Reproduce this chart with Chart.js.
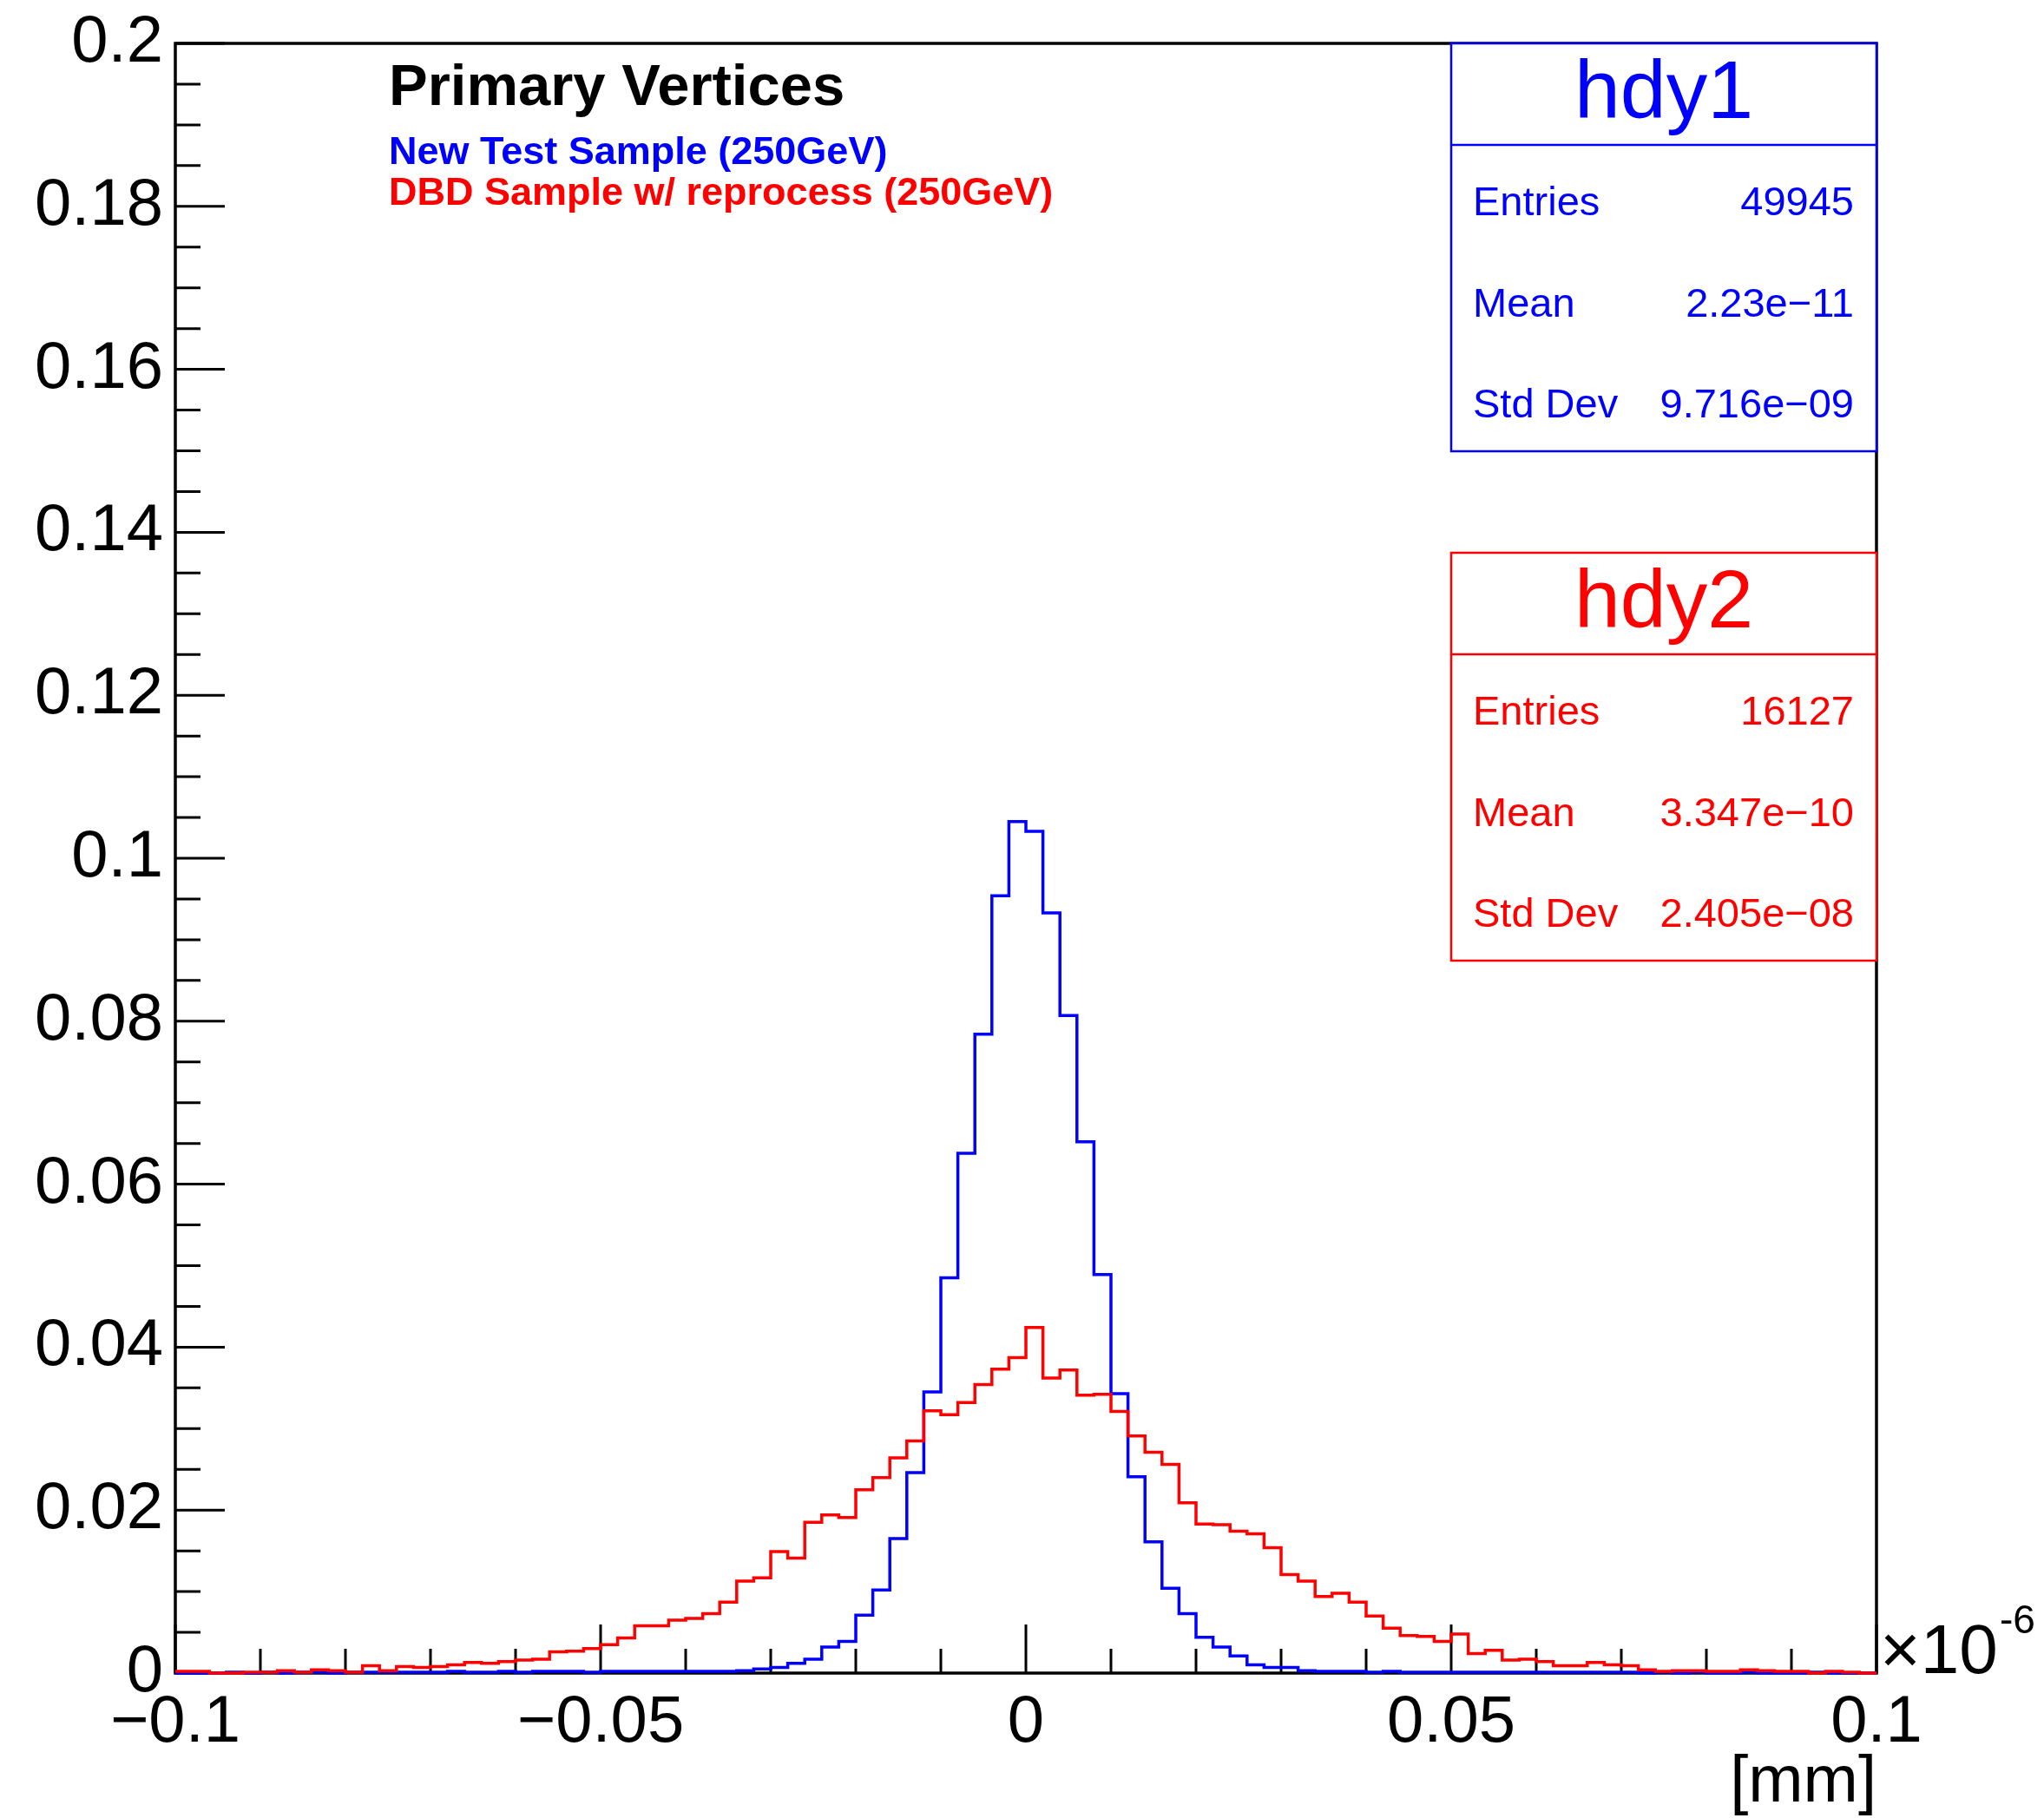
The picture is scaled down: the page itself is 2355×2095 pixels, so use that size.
<!DOCTYPE html>
<html>
<head>
<meta charset="utf-8">
<script src="https://cdn.jsdelivr.net/npm/chart.js@4.4.0/dist/chart.umd.min.js"></script>
<style>
  html, body { margin: 0; padding: 0; background: #fff; }
  canvas { display: block; }
</style>
</head>
<body>
<canvas id="histChart" width="2355" height="2095"></canvas>
<script>
// Histogram binning: 100 bins from -0.1 to 0.1 (x 1e-6 mm)
const xMin = -0.1;
const xMax = 0.1;
const binWidth = 0.002;

// hdy1 - New Test Sample (blue)
const hdy1Values = [
  0.0000, 0.0000, 0.0000, 0.0001, 0.0000, 0.0001, 0.0000, 0.0001, 0.0001, 0.0000,
  0.0001, 0.0001, 0.0001, 0.0001, 0.0001, 0.0001, 0.0002, 0.0001, 0.0001, 0.0002,
  0.0001, 0.0002, 0.0002, 0.0002, 0.0001, 0.0002, 0.0002, 0.0002, 0.0002, 0.0002,
  0.0002, 0.0002, 0.0002, 0.0003, 0.0005, 0.0007, 0.0012, 0.0017, 0.0032, 0.0039,
  0.0071, 0.0102, 0.0165, 0.0246, 0.0345, 0.0485, 0.0638, 0.0784, 0.0954, 0.1045,
  0.1033, 0.0933, 0.0807, 0.0652, 0.0489, 0.0343, 0.0241, 0.0161, 0.0104, 0.0073,
  0.0044, 0.0032, 0.0021, 0.0010, 0.0007, 0.0007, 0.0003, 0.0002, 0.0002, 0.0002,
  0.0001, 0.0002, 0.0001, 0.0001, 0.0001, 0.0001, 0.0001, 0.0001, 0.0001, 0.0001,
  0.0001, 0.0001, 0.0001, 0.0001, 0.0001, 0.0001, 0.0000, 0.0001, 0.0000, 0.0001,
  0.0000, 0.0000, 0.0001, 0.0000, 0.0000, 0.0000, 0.0001, 0.0000, 0.0000, 0.0000
];

// hdy2 - DBD Sample w/ reprocess (red)
const hdy2Values = [
  0.0002, 0.0002, 0.0000, 0.0000, 0.0001, 0.0001, 0.0003, 0.0001, 0.0004, 0.0003,
  0.0001, 0.0009, 0.0003, 0.0008, 0.0007, 0.0008, 0.0010, 0.0013, 0.0012, 0.0014,
  0.0016, 0.0017, 0.0026, 0.0027, 0.0030, 0.0035, 0.0043, 0.0058, 0.0058, 0.0065,
  0.0067, 0.0073, 0.0087, 0.0113, 0.0117, 0.0149, 0.0141, 0.0185, 0.0194, 0.0191,
  0.0225, 0.0240, 0.0264, 0.0285, 0.0322, 0.0317, 0.0332, 0.0354, 0.0373, 0.0387,
  0.0424, 0.0362, 0.0372, 0.0341, 0.0342, 0.0321, 0.0291, 0.0271, 0.0256, 0.0209,
  0.0183, 0.0182, 0.0174, 0.0171, 0.0154, 0.0121, 0.0113, 0.0094, 0.0098, 0.0087,
  0.0070, 0.0055, 0.0046, 0.0045, 0.0039, 0.0048, 0.0024, 0.0028, 0.0016, 0.0017,
  0.0014, 0.0009, 0.0009, 0.0013, 0.0010, 0.0009, 0.0004, 0.0002, 0.0003, 0.0003,
  0.0002, 0.0002, 0.0004, 0.0003, 0.0002, 0.0002, 0.0000, 0.0002, 0.0001, 0.0000
];

// axis ticks
const xTickValues = [-0.1, -0.05, 0, 0.05, 0.1];
const xTickLabels = ['\u22120.1', '\u22120.05', '0', '0.05', '0.1'];
const yTickValues = [0, 0.02, 0.04, 0.06, 0.08, 0.1, 0.12, 0.14, 0.16, 0.18, 0.2];
const yTickLabels = ['0', '0.02', '0.04', '0.06', '0.08', '0.1', '0.12', '0.14', '0.16', '0.18', '0.2'];

// stats boxes
const statsLabels = ['Entries', 'Mean', 'Std Dev'];
const hdy1Stats = ['49945', '2.23e\u221211', '9.716e\u221209'];
const hdy2Stats = ['16127', '3.347e\u221210', '2.405e\u221208'];

const FONT = '"Liberation Sans", Arial, Helvetica, sans-serif';
const BLUE = '#0000ff';
const RED = '#ff0000';

// turn bin contents into step points at the low edge of each bin
function toSteps(values) {
    const pts = values.map((v, i) => ({ x: xMin + i * binWidth, y: v }));
    pts.push({ x: xMax, y: 0 });
    return pts;
}

// ROOT-like frame, inner ticks and annotations
const rootStyle = {
    id: 'rootStyle',
    beforeDatasetsDraw(chart) {
        const ctx = chart.ctx;
        const area = chart.chartArea;
        const xs = chart.scales.x;
        const ys = chart.scales.y;
        ctx.save();
        ctx.strokeStyle = '#000';
        ctx.lineWidth = 3.5;
        ctx.strokeRect(area.left, area.top, area.right - area.left, area.bottom - area.top);

        ctx.lineWidth = 3;
        ctx.beginPath();
        // x ticks every 0.01, longer at 0.05
        for (let k = -10; k <= 10; k++) {
            const px = xs.getPixelForValue(k * 0.01);
            const len = (k % 5 === 0) ? 56 : 28;
            ctx.moveTo(px, area.bottom);
            ctx.lineTo(px, area.bottom - len);
        }
        // y ticks every 0.005, longer at 0.02
        for (let k = 0; k <= 40; k++) {
            const py = ys.getPixelForValue(k * 0.005);
            const len = (k % 4 === 0) ? 57 : 29;
            ctx.moveTo(area.left, py);
            ctx.lineTo(area.left + len, py);
        }
        ctx.stroke();
        ctx.restore();
    },
    afterDraw(chart) {
        const ctx = chart.ctx;
        const area = chart.chartArea;
        ctx.save();

        // header text
        ctx.textAlign = 'left';
        ctx.textBaseline = 'alphabetic';
        ctx.fillStyle = '#000';
        ctx.font = 'bold 67px ' + FONT;
        ctx.fillText('Primary Vertices', 448, 121);
        ctx.fillStyle = BLUE;
        ctx.font = 'bold 45px ' + FONT;
        ctx.fillText('New Test Sample (250GeV)', 448, 189);
        ctx.fillStyle = RED;
        ctx.fillText('DBD Sample w/ reprocess (250GeV)', 448, 236);

        // exponent and unit
        ctx.fillStyle = '#000';
        ctx.font = '80px ' + FONT;
        ctx.fillText('\u00d710', area.right + 4, 1928);
        ctx.font = '46px ' + FONT;
        ctx.fillText('-6', 2304, 1882);
        ctx.font = '76px ' + FONT;
        ctx.textAlign = 'right';
        ctx.fillText('[mm]', area.right, 2076);

        // stats boxes
        function statsBox(top, name, values, color) {
            const left = 1672, right = area.right;
            ctx.strokeStyle = color;
            ctx.fillStyle = '#fff';
            ctx.lineWidth = 2.5;
            ctx.fillRect(left, top, right - left, 470);
            ctx.strokeRect(left, top, right - left, 470);
            ctx.beginPath();
            ctx.moveTo(left, top + 117);
            ctx.lineTo(right, top + 117);
            ctx.stroke();
            ctx.fillStyle = color;
            ctx.textAlign = 'center';
            ctx.font = '95px ' + FONT;
            ctx.fillText(name, (left + right) / 2, top + 86);
            ctx.font = '47px ' + FONT;
            statsLabels.forEach((lab, i) => {
                const y = top + 198 + i * 116.5;
                ctx.textAlign = 'left';
                ctx.fillText(lab, 1697, y);
                ctx.textAlign = 'right';
                ctx.fillText(values[i], 2136, y);
            });
        }
        statsBox(50, 'hdy1', hdy1Stats, BLUE);
        statsBox(637, 'hdy2', hdy2Stats, RED);
        ctx.restore();
    }
};

new Chart(document.getElementById('histChart').getContext('2d'), {
    type: 'line',
    data: {
        datasets: [{
            label: 'hdy1',
            data: toSteps(hdy1Values),
            borderColor: BLUE,
            borderWidth: 3.5,
            stepped: true,
            pointRadius: 0,
            fill: false,
            order: 1,
            clip: 6
        }, {
            label: 'hdy2',
            data: toSteps(hdy2Values),
            borderColor: RED,
            borderWidth: 3.5,
            stepped: true,
            pointRadius: 0,
            fill: false,
            order: 0,
            clip: 6
        }]
    },
    options: {
        responsive: false,
        animation: false,
        devicePixelRatio: 1,
        layout: { padding: { top: 50, right: 193, left: 0, bottom: 0 } },
        plugins: {
            legend: { display: false },
            tooltip: { enabled: false }
        },
        scales: {
            x: {
                type: 'linear',
                min: xMin,
                max: xMax,
                afterBuildTicks: s => { s.ticks = xTickValues.map(v => ({ value: v })); },
                afterFit: s => { s.height = 167; },
                grid: { display: false, drawTicks: false },
                border: { display: false },
                ticks: {
                    autoSkip: false,
                    maxRotation: 0,
                    padding: 12,
                    color: '#000',
                    font: { family: FONT, size: 76 },
                    callback: (v) => xTickLabels[xTickValues.findIndex(t => Math.abs(t - v) < 1e-9)]
                }
            },
            y: {
                type: 'linear',
                min: 0,
                max: 0.2,
                afterBuildTicks: s => { s.ticks = yTickValues.map(v => ({ value: v })); },
                afterFit: s => { s.width = 202; s.paddingTop = 0; s.paddingBottom = 0; },
                grid: { display: false, drawTicks: false },
                border: { display: false },
                ticks: {
                    autoSkip: false,
                    padding: 14,
                    color: '#000',
                    font: { family: FONT, size: 76 },
                    callback: (v) => yTickLabels[yTickValues.findIndex(t => Math.abs(t - v) < 1e-9)]
                }
            }
        }
    },
    plugins: [rootStyle]
});
</script>
</body>
</html>
